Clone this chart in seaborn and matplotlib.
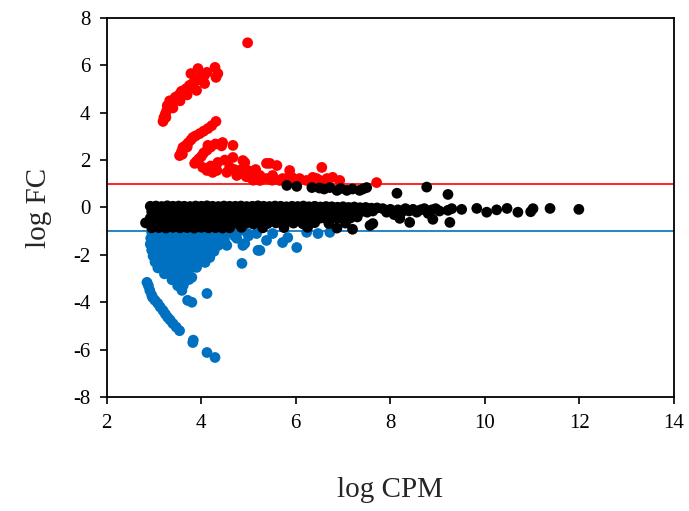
import numpy as np
import pandas as pd
import matplotlib
matplotlib.use("Agg")
import matplotlib.pyplot as plt
import seaborn as sns

# up-regulated (logFC > 1)
red_x = [3.19, 3.21, 3.24, 3.27, 3.30, 3.35, 3.33, 3.40, 3.45, 3.50, 3.55, 3.58, 3.62, 3.67, 3.72,
         3.76, 3.80, 3.85, 3.90, 3.95, 3.78, 3.93, 4.12, 4.06, 4.29, 4.35, 4.31, 4.07, 3.90,
         3.25, 3.40, 3.55, 3.70, 3.28, 3.45, 3.60, 3.75, 3.95,
         4.98,
         3.54, 3.58, 3.61, 3.66, 3.72, 3.78, 3.82, 3.88, 3.97, 4.05, 4.14, 4.22, 4.31, 3.60, 3.70,
         3.86, 3.90, 3.95, 4.00, 4.05, 4.12, 4.14, 4.20, 4.30, 4.45, 4.43, 4.67, 4.67, 4.88, 4.92,
         4.03, 4.12, 4.24, 4.33, 4.20, 4.35, 4.50, 4.54, 4.60, 4.75, 4.81, 4.70, 4.85, 5.03, 5.09,
         5.00, 5.24, 5.24, 5.38, 5.38, 5.45, 5.51, 5.60, 5.66, 5.72, 5.81, 5.87, 5.92, 6.08, 6.23,
         6.36, 6.44, 6.51, 6.55, 6.66, 6.78, 6.93, 7.71, 5.24, 5.10, 4.95, 5.50, 6.00, 5.15]
red_y = [3.63, 3.80, 3.95, 4.10, 4.25, 4.35, 4.50, 4.45, 4.60, 4.70, 4.80, 4.90, 4.85, 5.00, 5.05,
         5.10, 5.20, 5.30, 5.36, 5.40, 5.65, 5.86, 5.70, 5.55, 5.91, 5.65, 5.49, 5.23, 4.94,
         3.80, 4.20, 4.50, 4.75, 4.30, 4.65, 4.90, 5.15, 5.45,
         6.95,
         2.19, 2.35, 2.53, 2.60, 2.72, 2.85, 2.95, 3.02, 3.12, 3.22, 3.33, 3.45, 3.63, 2.25, 2.55,
         1.86, 1.95, 2.05, 2.15, 2.30, 2.42, 2.62, 2.55, 2.68, 2.74, 2.60, 2.62, 2.11, 1.98, 1.90,
         1.69, 1.56, 1.48, 1.56, 1.75, 1.90, 2.00, 1.48, 1.70, 1.35, 1.43, 1.60, 1.60, 1.27, 1.43,
         1.55, 1.27, 1.35, 1.22, 1.86, 1.86, 1.35, 1.77, 1.14, 1.22, 1.22, 1.56, 1.27, 1.22, 1.14,
         1.27, 1.22, 1.14, 1.69, 1.22, 1.27, 1.14, 1.05, 1.14, 1.15, 1.30, 1.15, 1.10, 1.60]

# down-regulated (logFC < -1)
blue_x = [2.85, 2.88, 2.91, 2.95, 2.97, 3.02, 3.08, 3.13, 3.19, 3.24, 3.29, 3.34, 3.40, 3.47, 3.54,
          3.82, 3.83, 4.12, 4.29,
          2.95, 3.07, 3.19, 3.31, 3.43, 3.55, 3.67, 3.79, 3.91, 4.03, 4.15, 4.27, 4.39, 4.51, 4.60, 4.81, 4.98, 5.17,
          2.93, 3.05, 3.17, 3.29, 3.41, 3.53, 3.65, 3.77, 3.89, 4.01, 4.13, 4.25, 4.37, 4.49,
          2.92, 3.04, 3.16, 3.28, 3.40, 3.52, 3.64, 3.76, 3.88, 4.00, 4.12, 4.24, 4.36,
          2.95, 3.07, 3.19, 3.31, 3.43, 3.55, 3.67, 3.79, 3.91, 4.03, 4.15, 4.27,
          2.98, 3.10, 3.22, 3.34, 3.46, 3.58, 3.70, 3.82, 3.94, 4.06, 4.18,
          3.02, 3.14, 3.26, 3.38, 3.50, 3.62, 3.74, 3.86, 3.98, 4.08,
          3.08, 3.20, 3.32, 3.44, 3.56, 3.68, 3.80, 3.90,
          3.22, 3.34, 3.46, 3.58, 3.70, 3.80,
          3.38, 3.50, 3.62, 3.74, 3.50, 3.62, 3.59,
          4.12, 3.71, 3.80, 4.86, 4.92, 4.88, 5.20, 5.24, 4.54, 5.38, 5.51, 5.72, 5.83, 6.02,
          6.23, 6.47, 6.72, 4.70, 4.75, 5.00]
blue_y = [-3.16, -3.30, -3.50, -3.70, -3.80, -3.92, -4.05, -4.20, -4.35, -4.50, -4.64, -4.75, -4.90, -5.05, -5.20,
          -5.70, -5.60, -6.12, -6.33,
          -1.05, -1.04, -1.06, -1.05, -1.03, -1.05, -1.06, -1.04, -1.05, -1.03, -1.06, -1.05, -1.04, -1.06, -1.05, -0.98, -1.10, -1.10,
          -1.30, -1.28, -1.32, -1.30, -1.29, -1.31, -1.30, -1.28, -1.32, -1.30, -1.29, -1.31, -1.30, -1.39,
          -1.55, -1.56, -1.54, -1.55, -1.57, -1.55, -1.53, -1.56, -1.55, -1.54, -1.56, -1.55, -1.60,
          -1.80, -1.79, -1.81, -1.80, -1.82, -1.80, -1.78, -1.81, -1.80, -1.79, -1.81, -1.85,
          -2.05, -2.06, -2.04, -2.05, -2.07, -2.05, -2.03, -2.06, -2.05, -2.04, -2.11,
          -2.30, -2.31, -2.29, -2.30, -2.32, -2.30, -2.28, -2.31, -2.30, -2.32,
          -2.55, -2.56, -2.54, -2.55, -2.57, -2.55, -2.53, -2.53,
          -2.80, -2.81, -2.79, -2.80, -2.82, -2.95,
          -3.05, -3.04, -3.06, -3.04, -3.30, -3.28, -3.50,
          -3.63, -3.92, -4.00, -2.36, -1.52, -1.60, -1.81, -1.81, -1.60, -1.39, -1.10, -1.48, -1.27, -1.69,
          -1.05, -1.10, -1.05, -1.20, -1.30, -1.20]

# not significant
black_x = [2.92, 3.04, 3.16, 3.28, 3.40, 3.52, 3.64, 3.76, 3.88, 4.00, 4.12, 4.24, 4.36, 4.48, 4.60, 4.72,
           4.84, 4.96, 5.08, 5.20, 5.32, 5.44, 5.56, 5.68, 5.80, 5.92, 6.04, 6.16, 6.28, 6.40, 6.52, 6.64,
           6.76, 6.88, 7.00, 7.12, 7.24, 7.36, 7.48, 7.60, 7.72,
           2.95, 3.07, 3.19, 3.31, 3.43, 3.55, 3.67, 3.79, 3.91, 4.03, 4.15, 4.27, 4.39, 4.51, 4.63, 4.75,
           4.87, 4.99, 5.11, 5.23, 5.35, 5.47, 5.59, 5.71, 5.83, 5.95, 6.07, 6.19, 6.31, 6.43, 6.55, 6.67,
           6.79, 6.91, 7.03, 7.15, 7.27, 7.39, 7.51, 7.63,
           2.92, 3.04, 3.16, 3.28, 3.40, 3.52, 3.64, 3.76, 3.88, 4.00, 4.12, 4.24, 4.36, 4.48, 4.60, 4.72,
           4.84, 4.96, 5.08, 5.20, 5.32, 5.44, 5.56, 5.68, 5.80, 5.92, 6.04, 6.16, 6.28, 6.40, 6.52, 6.64,
           6.76, 6.88, 7.00, 7.15, 7.30,
           2.82, 3.00, 3.12, 3.24, 3.36, 3.48, 3.60, 3.72, 3.84, 3.96, 4.08, 4.20, 4.32, 4.44, 4.56, 4.68,
           4.80, 4.95, 5.10, 5.25, 5.40, 5.58, 5.75, 5.95, 6.15, 6.40, 6.70, 7.05, 7.63,
           2.95, 3.10, 3.25, 3.40, 3.55, 3.70, 3.85, 4.00, 4.15, 4.30, 4.45, 4.60, 4.85, 5.30, 5.75, 6.25,
           6.87, 7.20, 7.57,
           7.84, 7.92, 8.00, 8.08, 8.16, 8.20, 8.24, 8.32, 8.40, 8.41, 8.48, 8.56, 8.64, 8.72, 8.80, 8.88,
           8.90, 8.96, 9.04, 9.26, 9.22, 9.30, 9.51, 9.83, 10.04, 10.25, 10.47, 10.70, 10.97, 11.02, 11.38, 11.99,
           5.81, 6.02, 6.34, 6.50, 6.60, 6.72, 6.87, 6.95, 7.08, 7.20, 7.35, 7.42, 7.50, 8.14, 8.77, 9.22]
black_y = [0.05, 0.06, 0.04, 0.07, 0.05, 0.06, 0.05, 0.04, 0.06, 0.05, 0.07, 0.05, 0.04, 0.06, 0.05, 0.05,
           0.06, 0.04, 0.05, 0.07, 0.05, 0.04, 0.06, 0.05, 0.03, 0.05, 0.04, 0.06, 0.03, 0.05, 0.02, 0.04,
           0.03, 0.01, 0.03, 0.00, 0.02, -0.01, 0.00, -0.03, -0.02,
           -0.18, -0.20, -0.22, -0.19, -0.21, -0.20, -0.18, -0.22, -0.20, -0.19, -0.21, -0.20, -0.22, -0.18, -0.20, -0.21,
           -0.19, -0.20, -0.22, -0.20, -0.18, -0.21, -0.20, -0.19, -0.22, -0.20, -0.18, -0.21, -0.20, -0.19, -0.22, -0.20,
           -0.18, -0.23, -0.20, -0.19, -0.21, -0.17, -0.20, -0.15,
           -0.45, -0.43, -0.47, -0.44, -0.46, -0.45, -0.42, -0.47, -0.45, -0.44, -0.46, -0.45, -0.43, -0.47, -0.45, -0.44,
           -0.46, -0.45, -0.43, -0.47, -0.45, -0.44, -0.46, -0.45, -0.42, -0.47, -0.45, -0.44, -0.46, -0.43, -0.45, -0.47,
           -0.44, -0.46, -0.42, -0.45, -0.40,
           -0.65, -0.68, -0.70, -0.67, -0.69, -0.68, -0.66, -0.70, -0.68, -0.67, -0.69, -0.68, -0.66, -0.70, -0.68, -0.67,
           -0.69, -0.66, -0.70, -0.67, -0.68, -0.65, -0.70, -0.66, -0.69, -0.64, -0.68, -0.66, -0.68,
           -0.86, -0.85, -0.87, -0.84, -0.86, -0.85, -0.87, -0.84, -0.86, -0.85, -0.87, -0.86, -0.84, -0.86, -0.85, -0.84,
           -0.87, -0.92, -0.76,
           -0.05, -0.20, -0.08, -0.30, -0.10, -0.46, -0.20, -0.05, -0.15, -0.63, -0.08, -0.20, -0.10, -0.05, -0.25, -0.10,
           -0.50, -0.05, -0.15, -0.63, -0.12, -0.05, -0.08, -0.04, -0.20, -0.10, -0.04, -0.20, -0.18, -0.05, -0.04, -0.08,
           0.93, 0.89, 0.84, 0.82, 0.78, 0.84, 0.72, 0.80, 0.72, 0.78, 0.72, 0.78, 0.84, 0.60, 0.86, 0.55]

df = pd.concat([
    pd.DataFrame({"logCPM": blue_x, "logFC": blue_y, "grp": "down"}),
    pd.DataFrame({"logCPM": red_x, "logFC": red_y, "grp": "up"}),
    pd.DataFrame({"logCPM": black_x, "logFC": black_y, "grp": "ns"}),
], ignore_index=True)

sns.set_style("ticks")
plt.rcParams["font.family"] = ["Liberation Serif", "DejaVu Serif"]
plt.rcParams["axes.unicode_minus"] = False

fig = plt.figure(figsize=(6.89, 5.11), dpi=100)
ax = fig.add_axes([0.155, 0.223, 0.823, 0.742])

ax.axhline(1, color="#FF0000", lw=1.2, zorder=1)
ax.axhline(-1, color="#0070C0", lw=1.2, zorder=1)

sns.scatterplot(
    data=df, x="logCPM", y="logFC", hue="grp",
    palette={"up": "#FF0000", "down": "#0070C0", "ns": "black"},
    s=60, linewidth=0, legend=False, ax=ax, zorder=2
)

ax.set_xlim(2, 14)
ax.set_ylim(-8, 8)
ax.set_xticks(np.arange(2, 15, 2))
ax.set_yticks(np.arange(-8, 9, 2))
ax.tick_params(direction="out", length=5, width=1.2, labelsize=15, pad=7, colors="black")
for sp in ax.spines.values():
    sp.set_visible(True)
    sp.set_linewidth(1.3)
    sp.set_color("black")

ax.set_xlabel("log CPM", fontsize=21)
ax.set_ylabel("log FC", fontsize=21)
ax.xaxis.set_label_coords(0.5, -0.21)
ax.yaxis.set_label_coords(-0.097, 0.5)

fig.savefig("out.png", dpi=100)
